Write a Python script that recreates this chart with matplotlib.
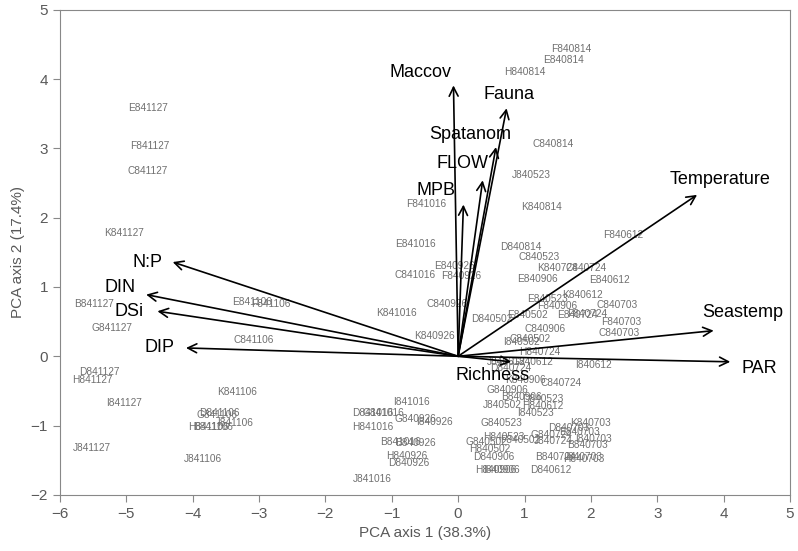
import matplotlib
matplotlib.use("Agg")
import matplotlib.pyplot as plt

plt.rcParams['font.family'] = ['Liberation Sans', 'DejaVu Sans']

# environmental vectors (arrow tip, label position)
var_names = ['Maccov', 'Fauna', 'Spatanom', 'FLOW', 'MPB', 'Temperature',
             'Seastemp', 'PAR', 'Richness', 'N:P', 'DIN', 'DSi', 'DIP']
var_x = [-0.07, 0.73, 0.57, 0.37, 0.08, 3.60, 3.85, 4.10, 0.80, -4.30, -4.70, -4.53, -4.10]
var_y = [3.91, 3.58, 3.02, 2.54, 2.19, 2.33, 0.37, -0.08, -0.08, 1.36, 0.89, 0.65, 0.12]
var_lx = [-0.57, 0.77, 0.18, 0.06, -0.33, 3.95, 4.28, 4.53, 0.52, -4.68, -5.10, -4.95, -4.50]
var_ly = [4.10, 3.78, 3.20, 2.79, 2.40, 2.55, 0.63, -0.18, -0.28, 1.36, 0.99, 0.64, 0.12]

# sample scores
site_names = [
    'F840814', 'E840814', 'H840814', 'C840814', 'J840523', 'K840814', 'D840814',
    'C840523', 'F840612', 'E840612', 'K840724', 'C840724', 'E840906', 'K840612',
    'C840703', 'F840906', 'E840523', 'D840502', 'E840502', 'E840724', 'F840724',
    'F840703', 'C840906', 'C840703', 'C840502', 'I840502', 'H840724', 'I840612',
    'J840612', 'G840612', 'D840724', 'K840906', 'C840724', 'G840906', 'B840906',
    'D840523', 'J840502', 'H840612', 'I840523', 'G840523', 'K840703', 'D840703',
    'E840703', 'H840523', 'G840724', 'I840703', 'G840502', 'F840502', 'J840724',
    'B840703', 'H840502', 'D840906', 'B840724', 'J840703', 'H840703', 'H840906',
    'I840906', 'D840612',
    'F841016', 'E841016', 'E840926', 'C841016', 'F840926', 'C840926', 'K841016',
    'K840926', 'I841016', 'D841016', 'G841016', 'G840926', 'I840926', 'H841016',
    'B841016', 'B840926', 'H840926', 'D840926', 'J841016',
    'B841127', 'G841127', 'E841106', 'F841106', 'C841106', 'E841127', 'F841127',
    'C841127', 'K841127', 'D841127', 'H841127', 'I841127', 'K841106', 'D841106',
    'G841106', 'I841106', 'H841106', 'B841106', 'J841127', 'J841106']
site_x = [
    1.70, 1.58, 1.00, 1.43, 1.11, 1.25, 0.95,
    1.22, 2.48, 2.28, 1.50, 1.92, 1.20, 1.88,
    2.40, 1.49, 1.35, 0.50, 1.05, 1.80, 1.95,
    2.45, 1.31, 2.42, 1.08, 0.96, 1.23, 2.04,
    0.72, 1.12, 0.80, 1.02, 1.55, 0.74, 0.95,
    1.28, 0.66, 1.28, 1.16, 0.66, 2.00, 1.67,
    1.83, 0.69, 1.40, 2.04, 0.42, 0.93, 1.43,
    1.95, 0.48, 0.54, 1.46, 1.88, 1.90, 0.56,
    0.65, 1.39,
    -0.48, -0.65, -0.05, -0.65, 0.05, -0.17, -0.93,
    -0.35, -0.71, -1.28, -1.13, -0.65, -0.36, -1.29,
    -0.87, -0.65, -0.78, -0.75, -1.29,
    -5.49, -5.22, -3.11, -2.82, -3.08, -4.67, -4.64,
    -4.67, -5.03, -5.40, -5.51, -5.03, -3.33, -3.60,
    -3.63, -3.36, -3.77, -3.69, -5.52, -3.84]
site_y = [
    4.44, 4.27, 4.11, 3.07, 2.61, 2.16, 1.58,
    1.44, 1.75, 1.10, 1.28, 1.28, 1.12, 0.89,
    0.74, 0.73, 0.83, 0.54, 0.60, 0.60, 0.61,
    0.50, 0.40, 0.34, 0.25, 0.21, 0.06, -0.12,
    -0.08, -0.08, -0.17, -0.34, -0.38, -0.48, -0.59,
    -0.61, -0.70, -0.72, -0.82, -0.96, -0.96, -1.03,
    -1.09, -1.16, -1.13, -1.19, -1.24, -1.21, -1.22,
    -1.28, -1.34, -1.45, -1.45, -1.45, -1.49, -1.64,
    -1.64, -1.64,
    2.20, 1.62, 1.30, 1.17, 1.16, 0.76, 0.63,
    0.29, -0.66, -0.82, -0.82, -0.90, -0.95, -1.02,
    -1.24, -1.25, -1.44, -1.54, -1.77,
    0.76, 0.41, 0.79, 0.76, 0.24, 3.58, 3.03,
    2.67, 1.78, -0.23, -0.34, -0.67, -0.51, -0.82,
    -0.85, -0.96, -1.02, -1.02, -1.32, -1.48]

fig = plt.figure(figsize=(7.98, 5.51), dpi=100)
ax = fig.add_axes([0.075, 0.102, 0.915, 0.880])

for name, x, y in zip(site_names, site_x, site_y):
    ax.text(x, y, name, fontsize=7.3, color='#707070', ha='center', va='center')

for name, x, y, lx, ly in zip(var_names, var_x, var_y, var_lx, var_ly):
    ax.annotate('', xy=(x, y), xytext=(0, 0),
                arrowprops=dict(arrowstyle='->', color='black', lw=1.2,
                                mutation_scale=16, shrinkA=0, shrinkB=0))
    ax.text(lx, ly, name, fontsize=13, color='black', ha='center', va='center')

ax.set_xlim(-6, 5)
ax.set_ylim(-2, 5)
ax.set_xticks(range(-6, 6))
ax.set_yticks(range(-2, 6))
ax.tick_params(direction='out', length=5, color='#888888', labelsize=11,
               labelcolor='#595959')
for s in ax.spines.values():
    s.set_color('#888888')
ax.set_xlabel('PCA axis 1 (38.3%)', fontsize=11, color='#595959')
ax.set_ylabel('PCA axis 2 (17.4%)', fontsize=11, color='#595959')

fig.savefig('out.png', dpi=100)
